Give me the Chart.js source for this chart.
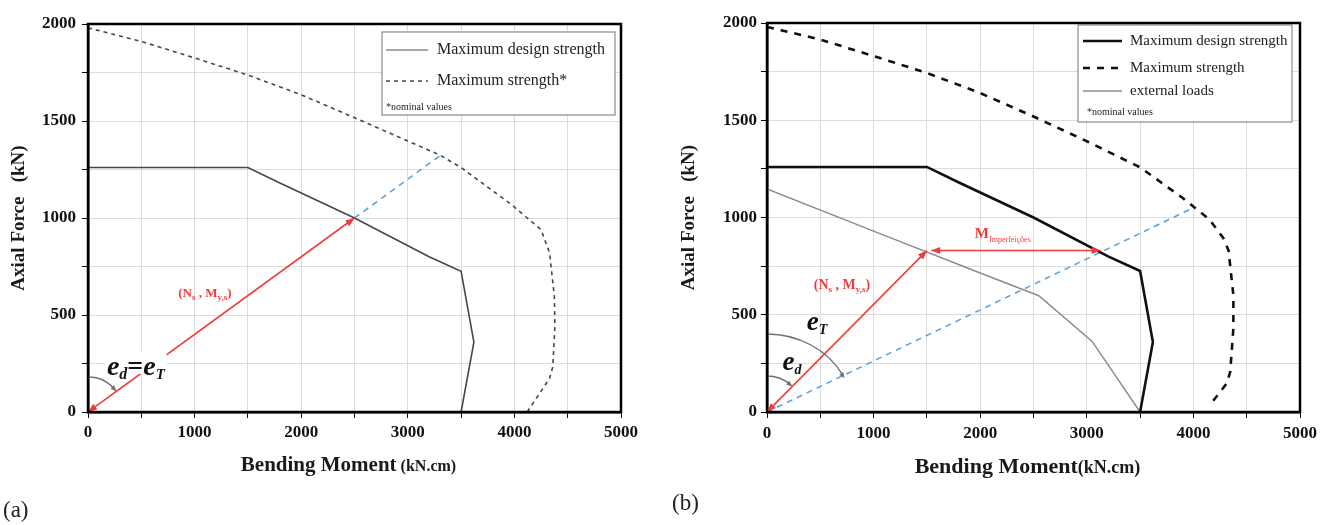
<!DOCTYPE html>
<html>
<head>
<meta charset="utf-8">
<script src="https://cdn.jsdelivr.net/npm/chart.js"></script>
<style>
body{margin:0;background:#fff;width:1332px;height:525px;position:relative;overflow:hidden;font-family:"Liberation Serif",serif;}
canvas{position:absolute;top:0;}
#chartA{left:0;}
#chartB{left:666px;}
.tag{position:absolute;font-size:23px;color:#222;}
</style>
</head>
<body>
<canvas id="chartA" width="660" height="525"></canvas>
<canvas id="chartB" width="666" height="525"></canvas>
<div class="tag" style="left:3px;top:497px">(a)</div>
<div class="tag" style="left:672px;top:490px">(b)</div>
<script>
// axes
const xTicks = [0, 1000, 2000, 3000, 4000, 5000];
const yTicks = [0, 500, 1000, 1500, 2000];

// (a)
const designM = [0, 1500, 1800, 2500, 3200, 3500, 3620, 3500];
const designN = [1260, 1260, 1180, 1000, 800, 725, 360, 0];
const nominalM_a = [0, 500, 1000, 1500, 2000, 2500, 3000, 3300, 3500, 3970, 4250, 4330, 4375, 4380, 4360, 4330, 4120];
const nominalN_a = [1980, 1910, 1825, 1737, 1635, 1517, 1397, 1325, 1260, 1070, 940, 820, 595, 440, 233, 173, 0];
const loadM_a = [0, 2500];
const loadN_a = [0, 1000];
const rayM_a = [2500, 3300];
const rayN_a = [1000, 1320];

// (b)
const nominalM_b = [0, 500, 1000, 1500, 2000, 2500, 3000, 3500, 3900, 4150, 4280, 4330, 4375, 4375, 4345, 4310, 4160];
const nominalN_b = [1980, 1915, 1830, 1743, 1640, 1519, 1392, 1258, 1100, 990, 895, 830, 600, 430, 205, 145, 40];
const externalM = [0, 1000, 2000, 2550, 3050, 3500];
const externalN = [1147, 930, 715, 598, 363, 0];
const loadM_b = [0, 1500];
const loadN_b = [0, 830];
const imperfM = [1540, 3130];
const imperfN = [830, 830];
const rayM_b = [0, 4000];
const rayN_b = [0, 1050];

const SERIF = '"Liberation Serif", "Times New Roman", serif';
const RED = '#f03c3c';
const BLUE = '#5ba3e3';

const pts = (xs, ys) => xs.map((v, i) => ({x: v, y: ys[i]}));

function arrowHead(ctx, tip, from, color, len, half){
  const a = Math.atan2(tip[1] - from[1], tip[0] - from[0]);
  const bx = tip[0] - len * Math.cos(a), by = tip[1] - len * Math.sin(a);
  ctx.save();
  ctx.fillStyle = color;
  ctx.beginPath();
  ctx.moveTo(tip[0], tip[1]);
  ctx.lineTo(bx + half * Math.sin(a), by - half * Math.cos(a));
  ctx.lineTo(bx - half * Math.sin(a), by + half * Math.cos(a));
  ctx.closePath();
  ctx.fill();
  ctx.restore();
}

function rich(ctx, parts, x, y, color, align){
  let w = 0;
  parts.forEach(p => {
    ctx.font = p[2] + ' ' + p[1] + 'px ' + SERIF;
    p.w = ctx.measureText(p[0]).width;
    w += p.w;
  });
  let cx = align === 'left' ? x : x - w / 2;
  ctx.fillStyle = color;
  ctx.textAlign = 'left';
  ctx.textBaseline = 'alphabetic';
  parts.forEach(p => {
    ctx.font = p[2] + ' ' + p[1] + 'px ' + SERIF;
    ctx.fillText(p[0], cx, y + (p[3] || 0));
    cx += p.w;
  });
  return w;
}

const decor = {
  id: 'decor',
  afterDatasetsDraw(chart){
    const {ctx, scales: {x, y}} = chart;
    const o = chart.options.plugins.decor;
    const px = d => [x.getPixelForValue(d.x), y.getPixelForValue(d.y)];

    chart.data.datasets.forEach(ds => {
      const p = ds.data.map(px);
      const n = p.length;
      if (ds.arrowEnd) arrowHead(ctx, p[n - 1], p[n - 2], ds.borderColor, 9, 3.5);
      if (ds.arrowStart) arrowHead(ctx, p[0], p[1], ds.borderColor, 9, 3.5);
    });

    const c0 = [x.getPixelForValue(0), y.getPixelForValue(0)];
    (o.arcs || []).forEach(arc => {
      const ds = chart.data.datasets[arc.ds];
      const end = px(ds.data[ds.data.length - 1]);
      const ang = Math.atan2(end[1] - c0[1], end[0] - c0[0]);
      ctx.save();
      ctx.strokeStyle = '#707070';
      ctx.lineWidth = 1.3;
      ctx.beginPath();
      ctx.ellipse(c0[0], c0[1], arc.rx, arc.ry, 0, -Math.PI / 2, ang - 0.05);
      ctx.stroke();
      const tip = [c0[0] + arc.rx * Math.cos(ang), c0[1] + arc.ry * Math.sin(ang)];
      const back = [c0[0] + arc.rx * Math.cos(ang - 0.2), c0[1] + arc.ry * Math.sin(ang - 0.2)];
      arrowHead(ctx, tip, back, '#707070', 6, 2.5);
      ctx.restore();
    });

    (o.notes || []).forEach(nt => {
      const p = px({x: nt.m, y: nt.n});
      ctx.save();
      if (nt.bg) {
        ctx.fillStyle = '#fff';
        ctx.fillRect(p[0] - nt.bg[0], p[1] - nt.bg[1], nt.bg[0] * 2, nt.bg[2]);
      }
      rich(ctx, nt.parts, p[0], p[1], nt.color, nt.align);
      ctx.restore();
    });

    const lg = o.legend;
    ctx.save();
    ctx.fillStyle = '#fff';
    ctx.fillRect(lg.box[0], lg.box[1], lg.box[2] - lg.box[0], lg.box[3] - lg.box[1]);
    ctx.strokeStyle = '#8a8a8a';
    ctx.lineWidth = 1.2;
    ctx.strokeRect(lg.box[0], lg.box[1], lg.box[2] - lg.box[0], lg.box[3] - lg.box[1]);
    lg.rows.forEach(r => {
      const ds = chart.data.datasets[r.ds];
      ctx.strokeStyle = ds.legendColor || ds.borderColor;
      ctx.lineWidth = ds.borderWidth;
      ctx.setLineDash(ds.borderDash || []);
      ctx.beginPath();
      ctx.moveTo(lg.sample[0], r.y);
      ctx.lineTo(lg.sample[1], r.y);
      ctx.stroke();
      ctx.setLineDash([]);
      ctx.fillStyle = '#222';
      ctx.font = lg.size + 'px ' + SERIF;
      ctx.textAlign = 'left';
      ctx.textBaseline = 'middle';
      ctx.fillText(ds.label, lg.textX, r.y);
    });
    ctx.font = '10px ' + SERIF;
    ctx.fillText(lg.note[0], lg.note[1], lg.note[2]);
    ctx.restore();
  },
  afterDraw(chart){
    const {ctx, chartArea: a} = chart;
    const o = chart.options.plugins.decor;
    ctx.save();
    ctx.strokeStyle = '#000';
    ctx.lineWidth = 2.5;
    ctx.strokeRect(a.left, a.top, a.right - a.left, a.bottom - a.top);
    rich(ctx, [['Bending Moment', o.xTitle[0], 'bold'], [o.xTitle[3], 16, 'bold'], ['(kN.cm)', o.xTitle[1], 'bold']],
      (a.left + a.right) / 2 - 6, o.xTitle[2], '#1a1a1a', 'center');
    ctx.restore();
  }
};

function makeChart(id, datasets, lay, deco){
  datasets.forEach(ds => {
    ds.showLine = true;
    ds.pointRadius = 0;
    ds.fill = false;
    ds.tension = 0;
  });
  return new Chart(document.getElementById(id), {
    type: 'scatter',
    data: {datasets: datasets},
    options: {
      responsive: false,
      animation: false,
      layout: {padding: {left: 0, top: lay.top, right: lay.right, bottom: 0}},
      plugins: {
        legend: {display: false},
        tooltip: {enabled: false},
        decor: deco
      },
      scales: {
        x: {
          type: 'linear', min: 0, max: 5000,
          afterFit: s => { s.height = lay.xh; },
          ticks: {
            stepSize: 500, autoSkip: false, maxRotation: 0, padding: lay.xpad,
            color: '#111', font: {family: SERIF, weight: 'bold', size: 17},
            callback: v => xTicks.includes(v) ? String(v) : ''
          },
          grid: {color: '#dcdcdc', tickColor: '#000', tickLength: 6, lineWidth: 1},
          border: {display: true, color: '#000', width: 2.5}
        },
        y: {
          type: 'linear', min: 0, max: 2000,
          afterFit: s => { s.width = lay.yw; },
          ticks: {
            stepSize: 250, autoSkip: false, padding: lay.ypad,
            color: '#111', font: {family: SERIF, weight: 'bold', size: 17},
            callback: v => yTicks.includes(v) ? String(v) : ''
          },
          grid: {color: '#dcdcdc', tickColor: '#000', tickLength: 6, lineWidth: 1},
          border: {display: true, color: '#000', width: 2.5},
          title: {
            display: true, text: 'Axial Force   (kN)', color: '#1a1a1a',
            font: {family: SERIF, weight: 'bold', size: 19},
            padding: {top: lay.ytp, bottom: 0}
          }
        }
      }
    },
    plugins: [decor]
  });
}

const NS = [['(N', 13, 'bold'], ['s', 9, 'bold', 3], [' , M', 13, 'bold'], ['y,s', 9, 'bold', 3], [')', 13, 'bold']];

makeChart('chartA', [
  {label: '(Ns, My,s)', data: pts(loadM_a, loadN_a), borderColor: RED, borderWidth: 1.6, arrowStart: true, arrowEnd: true},
  {label: 'Maximum design strength', data: pts(designM, designN), borderColor: '#474747', borderWidth: 1.6, legendColor: '#8a8a8a'},
  {label: 'Maximum strength*', data: pts(nominalM_a, nominalN_a), borderColor: '#474747', borderWidth: 1.6, borderDash: [4, 4]},
  {label: 'eccentricity ray', data: pts(rayM_a, rayN_a), borderColor: BLUE, borderWidth: 1.6, borderDash: [6, 5]}
], {top: 24, right: 39, xh: 113, yw: 88, xpad: 4, ypad: 6, ytp: 8}, {
  arcs: [{ds: 0, rx: 35, ry: 35}],
  notes: [
    {m: 1096, n: 593, color: RED, parts: NS},
    {m: 449, n: 191, color: '#111', bg: [31, 24, 23], parts: [
      ['e', 28, 'italic bold'], ['d', 16, 'italic bold', 4], ['=', 28, 'bold'], ['e', 28, 'italic bold'], ['T', 15, 'italic bold', 4]]}
  ],
  legend: {box: [382, 32, 615, 115], sample: [386, 428], textX: 437, size: 16,
    rows: [{ds: 1, y: 50}, {ds: 2, y: 81}], note: ['*nominal values', 386, 107]},
  xTitle: [21, 16, 471, ' ']
});

makeChart('chartB', [
  {label: '(Ns, My,s)', data: pts(loadM_b, loadN_b), borderColor: RED, borderWidth: 1.6, arrowStart: true, arrowEnd: true},
  {label: 'M imperfeicoes', data: pts(imperfM, imperfN), borderColor: RED, borderWidth: 1.6, arrowStart: true, arrowEnd: true},
  {label: 'Maximum design strength', data: pts(designM, designN), borderColor: '#111', borderWidth: 2.6},
  {label: 'Maximum strength', data: pts(nominalM_b, nominalN_b), borderColor: '#111', borderWidth: 2.6, borderDash: [7, 7]},
  {label: 'external loads', data: pts(externalM, externalN), borderColor: '#8c8c8c', borderWidth: 1.5},
  {label: 'eccentricity ray', data: pts(rayM_b, rayN_b), borderColor: BLUE, borderWidth: 1.6, borderDash: [6, 5]}
], {top: 23, right: 32, xh: 113, yw: 101, xpad: 5, ypad: 4, ytp: 12}, {
  arcs: [{ds: 0, rx: 36, ry: 36}, {ds: 5, rx: 86, ry: 78}],
  notes: [
    {m: 703, n: 634, color: RED, parts: [['(N', 14, 'bold'], ['s', 9, 'bold', 3], [' , M', 14, 'bold'], ['y,s', 9, 'bold', 3], [')', 14, 'bold']]},
    {m: 1950, n: 897, color: RED, align: 'left', parts: [['M', 15, 'bold'], ['Imperfeições', 8, '', 4]]},
    {m: 469, n: 423, color: '#111', parts: [['e', 27, 'italic bold'], ['T', 14, 'italic bold', 4]]},
    {m: 234, n: 216, color: '#111', parts: [['e', 27, 'italic bold'], ['d', 14, 'italic bold', 4]]}
  ],
  legend: {box: [412, 25, 626, 122], sample: [417, 456], textX: 464, size: 15,
    rows: [{ds: 2, y: 41}, {ds: 3, y: 68}, {ds: 4, y: 91}], note: ['*nominal values', 421, 112]},
  xTitle: [22, 18, 473, '']
});
</script>
</body>
</html>
